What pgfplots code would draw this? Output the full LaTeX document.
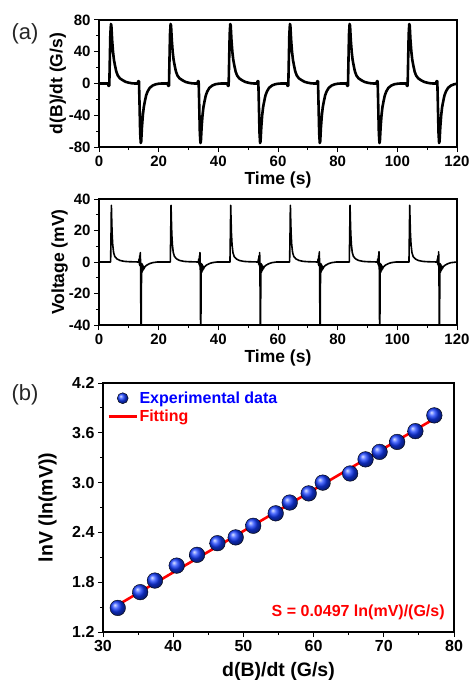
\documentclass[border=0pt]{standalone}
\usepackage{fontspec}
\setmainfont{Liberation Sans}
\usepackage{pgfplots}
\pgfplotsset{compat=1.18}

\pgfplotsset{
  panel/.style={
    scale only axis,
    axis line style={line width=1.2pt},
    tick align=outside, tick pos=left,
    major tick length=5pt, minor tick length=3pt,
    tick style={line width=1pt, black},
    minor tick num=1,
    xticklabel={\textbf{\pgfmathprintnumber[assume math mode=true]{\tick}}},
    yticklabel={\textbf{\pgfmathprintnumber[assume math mode=true]{\tick}}},
    tick label style={font=\boldmath\bfseries\fontsize{15}{15}\selectfont},
    /pgf/number format/assume math mode=true,
  },
  balllegend/.style={legend image code/.code={\draw[mark repeat=2,mark phase=2,##1,mark size=5.5pt] plot coordinates {(0pt,0pt) (14pt,0pt) (28pt,0pt)};}},
  linelegend/.style={legend image code/.code={\draw[##1] (0pt,0pt) -- (28pt,0pt);}},
}

\begin{document}
\begin{tikzpicture}
\useasboundingbox (0,0) rectangle (469pt,-680pt);

% (a) top: d(B)/dt
\begin{axis}[panel,
  at={(99pt,-147pt)}, anchor=south west,
  width=358pt, height=127pt,
  xmin=0, xmax=120, ymin=-80, ymax=80,
  xtick={0,20,...,120}, ytick={-80,-40,0,40,80},
  xlabel={Time (s)}, ylabel={d(B)/dt (G/s)},
  every axis x label/.style={at={(axis description cs:0.5,-0.26)}, anchor=center, font=\bfseries\fontsize{17.5}{17.5}\selectfont},
  every axis y label/.style={at={(axis description cs:-0.115,0.5)}, rotate=90, anchor=center, font=\bfseries\fontsize{17.5}{17.5}\selectfont},
]
\addplot[black, line width=2.6pt, line join=round] coordinates {
(0,0) (3.0,0) (3.2,-3) (3.45,-3) (3.6,25) (3.8,62) (4.0,75) (4.15,73) (4.4,55) (4.7,40) (5.0,30) (5.4,22) (5.8,15) (6.3,10) (7.0,6.5) (8.0,4) (9.0,2) (10.0,1) (11.0,0.3) (12.0,0)
(13.0,0) (13.15,3) (13.4,3) (13.55,-20) (13.8,-62) (14.0,-75) (14.15,-73) (14.4,-55) (14.7,-40) (15.0,-30) (15.4,-22) (15.8,-15) (16.3,-10) (17.0,-5.5) (18.0,-2.5) (19.0,-1) (20.0,-0.3)
(21.0,0) (23.0,0) (23.2,-3) (23.45,-3) (23.6,25) (23.8,62) (24.0,75) (24.15,73) (24.4,55) (24.7,40) (25.0,30) (25.4,22) (25.8,15) (26.3,10) (27.0,6.5) (28.0,4) (29.0,2) (30.0,1) (31.0,0.3) (32.0,0)
(33.0,0) (33.15,3) (33.4,3) (33.55,-20) (33.8,-62) (34.0,-75) (34.15,-73) (34.4,-55) (34.7,-40) (35.0,-30) (35.4,-22) (35.8,-15) (36.3,-10) (37.0,-5.5) (38.0,-2.5) (39.0,-1) (40.0,-0.3)
(41.0,0) (43.0,0) (43.2,-3) (43.45,-3) (43.6,25) (43.8,62) (44.0,75) (44.15,73) (44.4,55) (44.7,40) (45.0,30) (45.4,22) (45.8,15) (46.3,10) (47.0,6.5) (48.0,4) (49.0,2) (50.0,1) (51.0,0.3) (52.0,0)
(53.0,0) (53.15,3) (53.4,3) (53.55,-20) (53.8,-62) (54.0,-75) (54.15,-73) (54.4,-55) (54.7,-40) (55.0,-30) (55.4,-22) (55.8,-15) (56.3,-10) (57.0,-5.5) (58.0,-2.5) (59.0,-1) (60.0,-0.3)
(61.0,0) (63.0,0) (63.2,-3) (63.45,-3) (63.6,25) (63.8,62) (64.0,75) (64.15,73) (64.4,55) (64.7,40) (65.0,30) (65.4,22) (65.8,15) (66.3,10) (67.0,6.5) (68.0,4) (69.0,2) (70.0,1) (71.0,0.3) (72.0,0)
(73.0,0) (73.15,3) (73.4,3) (73.55,-20) (73.8,-62) (74.0,-75) (74.15,-73) (74.4,-55) (74.7,-40) (75.0,-30) (75.4,-22) (75.8,-15) (76.3,-10) (77.0,-5.5) (78.0,-2.5) (79.0,-1) (80.0,-0.3)
(81.0,0) (83.0,0) (83.2,-3) (83.45,-3) (83.6,25) (83.8,62) (84.0,75) (84.15,73) (84.4,55) (84.7,40) (85.0,30) (85.4,22) (85.8,15) (86.3,10) (87.0,6.5) (88.0,4) (89.0,2) (90.0,1) (91.0,0.3) (92.0,0)
(93.0,0) (93.15,3) (93.4,3) (93.55,-20) (93.8,-62) (94.0,-75) (94.15,-73) (94.4,-55) (94.7,-40) (95.0,-30) (95.4,-22) (95.8,-15) (96.3,-10) (97.0,-5.5) (98.0,-2.5) (99.0,-1) (100.0,-0.3)
(101.0,0) (103.0,0) (103.2,-3) (103.45,-3) (103.6,25) (103.8,62) (104.0,75) (104.15,73) (104.4,55) (104.7,40) (105.0,30) (105.4,22) (105.8,15) (106.3,10) (107.0,6.5) (108.0,4) (109.0,2) (110.0,1) (111.0,0.3) (112.0,0)
(113.0,0) (113.15,3) (113.4,3) (113.55,-20) (113.8,-62) (114.0,-75) (114.15,-73) (114.4,-55) (114.7,-40) (115.0,-30) (115.4,-22) (115.8,-15) (116.3,-10) (117.0,-5.5) (118.0,-2.5) (119.0,-1) (120.0,-0.3)
};
\end{axis}

% (a) bottom: voltage
\begin{axis}[panel,
  at={(99pt,-325pt)}, anchor=south west,
  width=358pt, height=126pt,
  xmin=0, xmax=120, ymin=-40, ymax=40,
  xtick={0,20,...,120}, ytick={-40,-20,0,20,40},
  xlabel={Time (s)}, ylabel={Voltage (mV)},
  every axis x label/.style={at={(axis description cs:0.5,-0.26)}, anchor=center, font=\bfseries\fontsize{17.5}{17.5}\selectfont},
  every axis y label/.style={at={(axis description cs:-0.11,0.5)}, rotate=90, anchor=center, font=\bfseries\fontsize{17.5}{17.5}\selectfont},
]
\addplot[black, line width=1.6pt, line join=round] coordinates {
(0,0) (3.9,0) (4.05,20) (4.15,36) (4.25,28) (4.4,18) (4.6,11) (4.9,6) (5.3,3.5) (6.0,2) (7.0,1) (8.5,0.4) (10,0.2)
(13.3,0) (13.45,2) (13.55,-1.5) (13.65,4) (13.75,-2.5) (13.85,6) (13.95,-3) (14.05,-41) (14.15,-41) (14.25,-6) (14.35,-1) (14.45,-6.5) (14.55,-1.5) (14.7,-5.5) (14.85,-2.5) (15.0,-4.5) (15.4,-3) (16,-2) (17,-1) (18,-0.4) (19.5,0)
(23.9,0) (24.05,20) (24.15,36) (24.25,28) (24.4,18) (24.6,11) (24.9,6) (25.3,3.5) (26.0,2) (27.0,1) (28.5,0.4) (30,0.2)
(33.3,0) (33.45,2) (33.55,-1.5) (33.65,4) (33.75,-2.5) (33.85,6) (33.95,-3) (34.05,-41) (34.15,-41) (34.25,-6) (34.35,-1) (34.45,-6.5) (34.55,-1.5) (34.7,-5.5) (34.85,-2.5) (35.0,-4.5) (35.4,-3) (36,-2) (37,-1) (38,-0.4) (39.5,0)
(43.9,0) (44.05,20) (44.15,36) (44.25,28) (44.4,18) (44.6,11) (44.9,6) (45.3,3.5) (46.0,2) (47.0,1) (48.5,0.4) (50,0.2)
(53.3,0) (53.45,2) (53.55,-1.5) (53.65,4) (53.75,-2.5) (53.85,6) (53.95,-3) (54.05,-41) (54.15,-41) (54.25,-6) (54.35,-1) (54.45,-6.5) (54.55,-1.5) (54.7,-5.5) (54.85,-2.5) (55.0,-4.5) (55.4,-3) (56,-2) (57,-1) (58,-0.4) (59.5,0)
(63.9,0) (64.05,20) (64.15,36) (64.25,28) (64.4,18) (64.6,11) (64.9,6) (65.3,3.5) (66.0,2) (67.0,1) (68.5,0.4) (70,0.2)
(73.3,0) (73.45,2) (73.55,-1.5) (73.65,4) (73.75,-2.5) (73.85,6.5) (73.95,-3) (74.05,-41) (74.15,-41) (74.25,-6) (74.35,-1) (74.45,-6.5) (74.55,-1.5) (74.7,-5.5) (74.85,-2.5) (75.0,-4.5) (75.4,-3) (76,-2) (77,-1) (78,-0.4) (79.5,0)
(83.9,0) (84.05,20) (84.15,36) (84.25,28) (84.4,18) (84.6,11) (84.9,6) (85.3,3.5) (86.0,2) (87.0,1) (88.5,0.4) (90,0.2)
(93.3,0) (93.45,2) (93.55,-1.5) (93.65,4) (93.75,-2.5) (93.85,6.5) (93.95,-3) (94.05,-41) (94.15,-41) (94.25,-6) (94.35,-1) (94.45,-6.5) (94.55,-1.5) (94.7,-5.5) (94.85,-2.5) (95.0,-4.5) (95.4,-3) (96,-2) (97,-1) (98,-0.4) (99.5,0)
(103.9,0) (104.05,20) (104.15,36) (104.25,28) (104.4,18) (104.6,11) (104.9,6) (105.3,3.5) (106.0,2) (107.0,1) (108.5,0.4) (110,0.2)
(113.3,0) (113.45,2) (113.55,-1.5) (113.65,4) (113.75,-2.5) (113.85,6.5) (113.95,-3) (114.05,-41) (114.15,-41) (114.25,-6) (114.35,-1) (114.45,-6.5) (114.55,-1.5) (114.7,-5.5) (114.85,-2.5) (115.0,-4.5) (115.4,-3) (116,-2) (117,-1) (118,-0.4) (120,0)
};
\end{axis}

% (b) lnV vs d(B)/dt
\begin{axis}[panel,
  at={(103pt,-632pt)}, anchor=south west,
  width=351pt, height=249pt,
  xmin=30, xmax=80, ymin=1.2, ymax=4.2,
  xtick={30,40,...,80}, ytick={1.2,1.8,2.4,3.0,3.6,4.2},
  tick label style={font=\boldmath\bfseries\fontsize{16}{16}\selectfont},
  yticklabel style={/pgf/number format/fixed, /pgf/number format/fixed zerofill, /pgf/number format/precision=1},
  xlabel={d(B)/dt (G/s)}, ylabel={lnV (ln(mV))},
  every axis x label/.style={at={(axis description cs:0.5,-0.16)}, anchor=center, font=\bfseries\fontsize{19.5}{19.5}\selectfont},
  every axis y label/.style={at={(axis description cs:-0.158,0.5)}, rotate=90, anchor=center, font=\bfseries\fontsize{19.5}{19.5}\selectfont},
  legend style={at={(axis description cs:0.012,0.972)}, anchor=north west, draw=none, fill=none,
    font=\bfseries\fontsize{16}{16}\selectfont, row sep=2pt, inner sep=0pt,
    nodes={inner sep=1.5pt}},
  legend cell align=left,
]
\addplot[only marks, mark=ball, mark size=7.8pt, mark options={ball color={rgb,255:red,20;green,60;blue,255}}, balllegend]
coordinates {
(32.1,1.49) (35.3,1.68) (37.4,1.82) (40.5,2.00) (43.4,2.13) (46.3,2.27)
(48.9,2.34) (51.4,2.48) (54.6,2.63) (56.6,2.76) (59.3,2.87) (61.3,3.00)
(65.2,3.11) (67.4,3.28) (69.4,3.37) (71.9,3.49) (74.5,3.62) (77.2,3.81)
};
\addlegendentry{\textcolor{blue}{Experimental data}}
\addplot[red, line width=2.6pt, linelegend]
coordinates {(32.2,1.53) (77.2,3.77)};
\addlegendentry{\textcolor{red}{Fitting}}
\node[anchor=east, inner sep=0pt, text=red, font=\bfseries\fontsize{16}{16}\selectfont]
  at (axis cs:78.7,1.44) {S = 0.0497 ln(mV)/(G/s)};
\end{axis}

\node[text=black!85, font=\fontsize{22}{22}\selectfont] at (25pt,-34pt) {(a)};
\node[text=black!85, font=\fontsize{22}{22}\selectfont] at (25pt,-395pt) {(b)};
\end{tikzpicture}
\end{document}
